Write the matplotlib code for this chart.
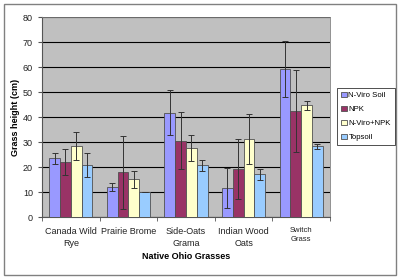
import numpy as np
import matplotlib.pyplot as plt
from matplotlib.patches import Rectangle

plt.rcParams['font.family'] = ['Liberation Sans', 'DejaVu Sans']

# ── données ─────────────────────────────────────────────────────────────
grasses = ["Canada Wild\nRye", "Prairie Brome", "Side-Oats\nGrama",
           "Indian Wood\nOats", "Switch\nGrass"]
treatments = ["N-Viro Soil", "NPK", "N-Viro+NPK", "Topsoil"]

nviro      = [23.5, 12.2, 41.8, 11.5, 59.3]
nviro_err  = [2.3, 1.6, 8.9, 8.0, 11.2]
npk        = [22.1, 17.9, 30.6, 19.4, 42.5]
npk_err    = [5.3, 14.6, 11.3, 12.0, 16.3]
combo      = [28.5, 15.1, 27.7, 31.4, 44.7]
combo_err  = [5.5, 3.4, 5.3, 10.0, 1.8]
topsoil    = [20.8, 9.9, 20.7, 17.1, 28.4]
topsoil_err = [4.8, 0.0, 2.1, 2.2, 1.0]

colors = ["#9999FF", "#993366", "#FFFFCC", "#99CCFF"]

# ── figure ──────────────────────────────────────────────────────────────
fig = plt.figure(figsize=(4.0, 2.79), dpi=100)
fig.patches.append(Rectangle((0.01, 0.016), 0.98, 0.97, transform=fig.transFigure,
                             fill=False, edgecolor='#808080', lw=1.0))
ax = fig.add_axes([0.105, 0.222, 0.72, 0.717])
ax.set_facecolor('#C0C0C0')

x = np.arange(len(grasses))
w = 0.187
series = [(nviro, nviro_err), (npk, npk_err), (combo, combo_err), (topsoil, topsoil_err)]
for k, (vals, errs) in enumerate(series):
    pos = x + (k - 1.5) * w
    ax.bar(pos, vals, w, color=colors[k], edgecolor='#505050', lw=0.6,
           label=treatments[k], zorder=3)
    ax.errorbar(pos, vals, yerr=errs, fmt='none', ecolor='#333333',
                elinewidth=0.7, capsize=2, capthick=0.7, zorder=4)

ax.set_xlim(-0.5, len(grasses) - 0.5)
ax.set_ylim(0, 80)
ax.set_yticks(range(0, 81, 10))
ax.yaxis.grid(True, color='black', lw=0.8, zorder=1)
ax.set_axisbelow(True)

ax.set_xticks(x)
ax.set_xticklabels(grasses, fontsize=6.5, color='#222222', linespacing=1.5)
ax.get_xticklabels()[-1].set_fontsize(5.5)
ax.tick_params(axis='x', length=0, pad=7)
ax.set_xticks(np.arange(-0.5, len(grasses), 1), minor=True)
ax.tick_params(axis='x', which='minor', length=3, color='#555555')
ax.tick_params(axis='y', labelsize=6.5, length=3, color='#555555', labelcolor='#222222')

for side in ['top', 'right']:
    ax.spines[side].set_color('#808080')
    ax.spines[side].set_linewidth(0.6)
for side in ['left', 'bottom']:
    ax.spines[side].set_color('#555555')
    ax.spines[side].set_linewidth(0.8)

ax.set_xlabel("Native Ohio Grasses", fontsize=6.5, fontweight='bold', labelpad=3)
ax.set_ylabel("Grass height (cm)", fontsize=6.5, fontweight='bold', labelpad=2)

leg = fig.legend(loc='upper left', bbox_to_anchor=(0.843, 0.685), fontsize=5.6,
                 frameon=True, fancybox=False, edgecolor='black',
                 handlelength=0.7, handleheight=0.7, handletextpad=0.25,
                 borderpad=0.5, labelspacing=0.85, borderaxespad=0)
leg.get_frame().set_linewidth(0.6)

plt.savefig("out.png", dpi=100)
